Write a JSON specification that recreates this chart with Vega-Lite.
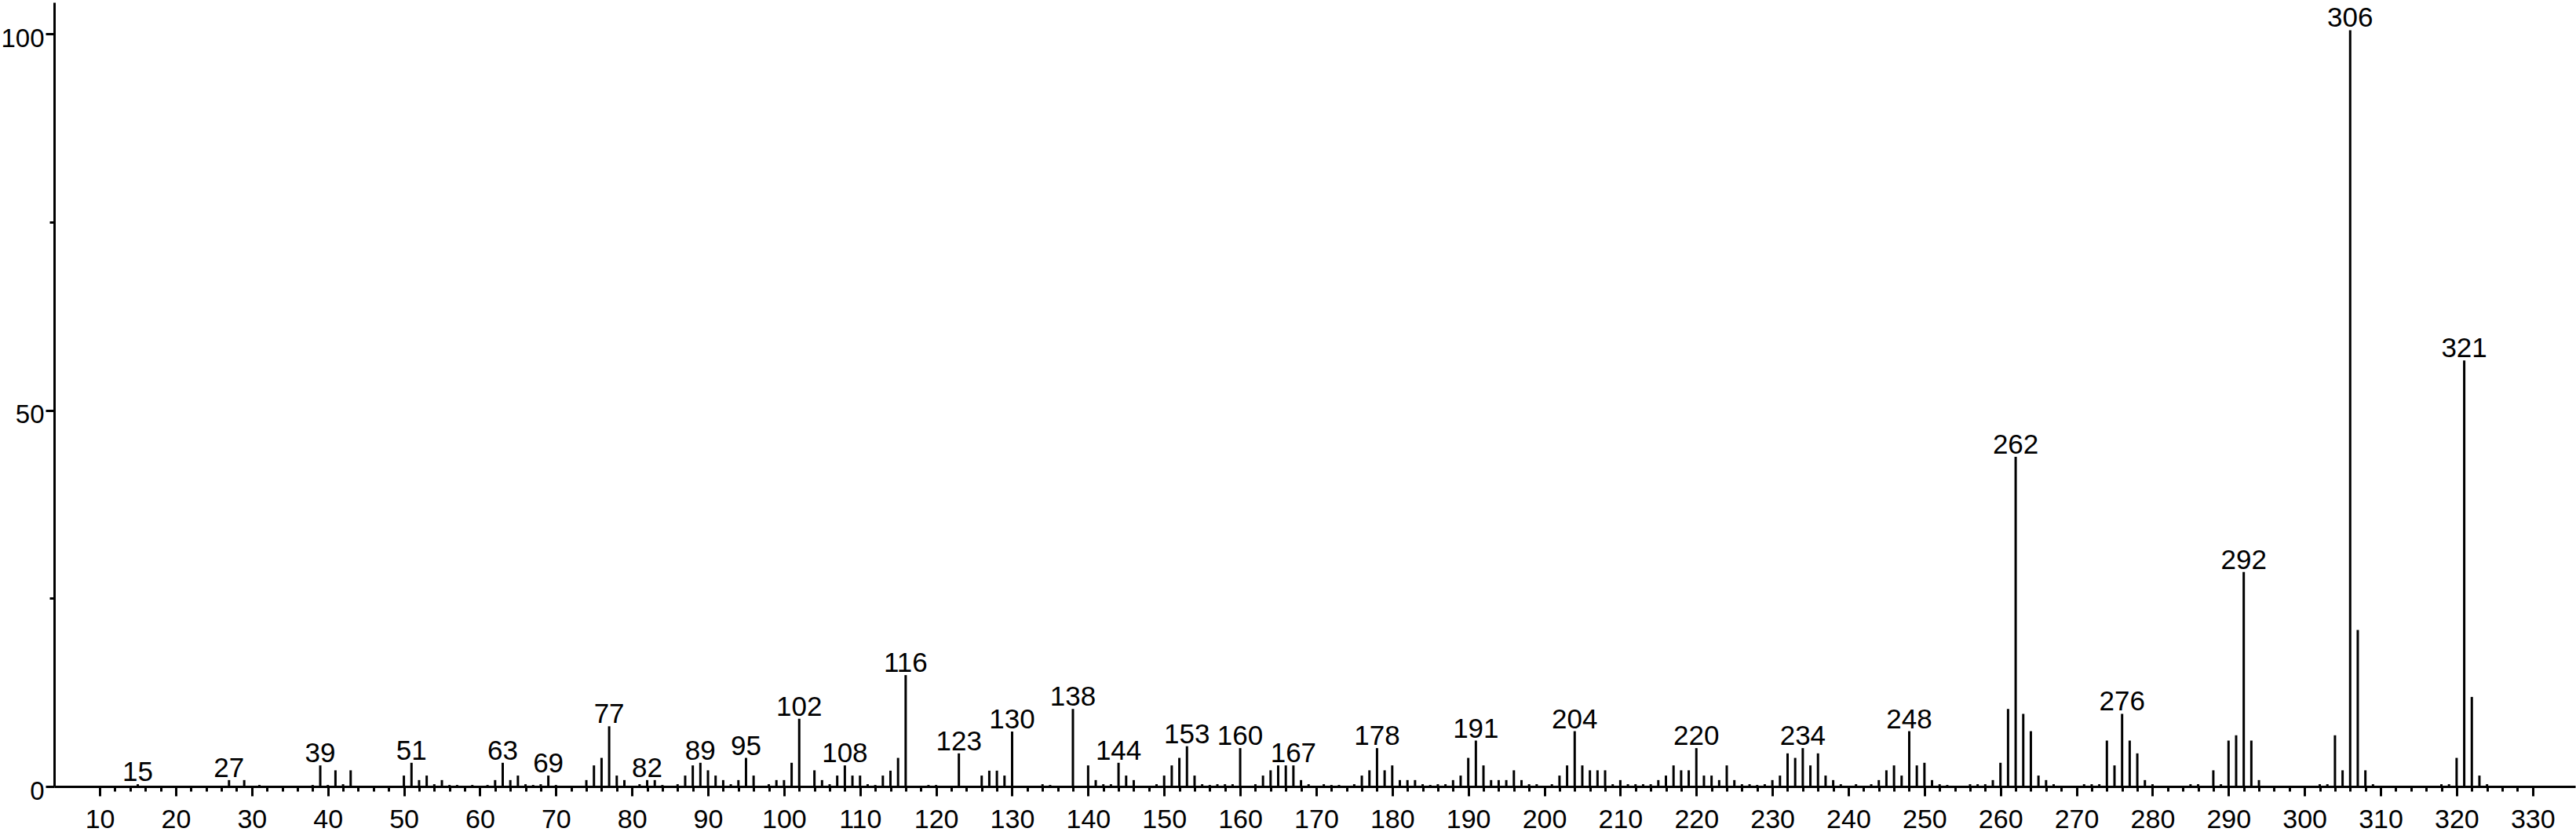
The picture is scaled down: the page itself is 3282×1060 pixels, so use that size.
{
  "$schema": "https://vega.github.io/schema/vega-lite/v6.json",
  "width": 3212,
  "height": 999,
  "autosize": {"type": "none"},
  "padding": {"left": 69, "top": 3, "right": 1, "bottom": 58},
  "background": "white",
  "config": {"view": {"stroke": null}},
  "data": {"values": [
    {"mz":15,"i":0.3,"lab":1},{"mz":27,"i":0.85,"lab":1},{"mz":29,"i":0.85},{"mz":31,"i":0.2},{"mz":38,"i":0.2},
    {"mz":39,"i":2.8,"lab":1},{"mz":40,"i":0.2},{"mz":41,"i":2.15},{"mz":42,"i":0.3},{"mz":43,"i":2.15},
    {"mz":50,"i":1.45},{"mz":51,"i":3.15,"lab":1},{"mz":52,"i":0.85},{"mz":53,"i":1.45},{"mz":54,"i":0.3},{"mz":55,"i":0.85},{"mz":56,"i":0.2},{"mz":57,"i":0.2},{"mz":59,"i":0.2},
    {"mz":61,"i":0.2},{"mz":62,"i":0.85},{"mz":63,"i":3.15,"lab":1},{"mz":64,"i":0.85},{"mz":65,"i":1.45},{"mz":66,"i":0.3},{"mz":67,"i":0.2},{"mz":68,"i":0.3},{"mz":69,"i":1.45,"lab":1},{"mz":70,"i":0.2},
    {"mz":74,"i":0.85},{"mz":75,"i":2.8},{"mz":76,"i":3.8},{"mz":77,"i":8.0,"lab":1},{"mz":78,"i":1.45},{"mz":79,"i":0.85},{"mz":81,"i":0.3},{"mz":82,"i":0.85,"lab":1},{"mz":83,"i":0.85},{"mz":84,"i":0.2},
    {"mz":86,"i":0.3},{"mz":87,"i":1.45},{"mz":88,"i":2.8},{"mz":89,"i":3.15,"lab":1},{"mz":90,"i":2.15},{"mz":91,"i":1.45},{"mz":92,"i":0.85},{"mz":93,"i":0.3},{"mz":94,"i":0.85},{"mz":95,"i":3.8,"lab":1},{"mz":96,"i":1.45},
    {"mz":98,"i":0.3},{"mz":99,"i":0.85},{"mz":100,"i":0.85},{"mz":101,"i":3.15},{"mz":102,"i":9.0,"lab":1},{"mz":104,"i":2.15},{"mz":105,"i":0.85},{"mz":106,"i":0.3},{"mz":107,"i":1.45},{"mz":108,"i":2.8,"lab":1},{"mz":109,"i":1.45},{"mz":110,"i":1.45},
    {"mz":111,"i":0.3},{"mz":112,"i":0.2},{"mz":113,"i":1.45},{"mz":114,"i":2.1},{"mz":115,"i":3.8},{"mz":116,"i":14.8,"lab":1},
    {"mz":119,"i":0.2},{"mz":120,"i":0.2},{"mz":123,"i":4.4,"lab":1},{"mz":126,"i":1.45},{"mz":127,"i":2.1},{"mz":128,"i":2.1},{"mz":129,"i":1.45},{"mz":130,"i":7.3,"lab":1},
    {"mz":134,"i":0.3},{"mz":135,"i":0.2},{"mz":138,"i":10.3,"lab":1},{"mz":140,"i":2.8},{"mz":141,"i":0.85},{"mz":142,"i":0.3},{"mz":143,"i":0.3},{"mz":144,"i":3.15,"lab":1},{"mz":145,"i":1.45},{"mz":146,"i":0.85},
    {"mz":149,"i":0.3},{"mz":150,"i":1.45},{"mz":151,"i":2.8},{"mz":152,"i":3.8},{"mz":153,"i":5.35,"lab":1},{"mz":154,"i":1.45},{"mz":155,"i":0.3},{"mz":156,"i":0.2},{"mz":157,"i":0.3},{"mz":158,"i":0.3},{"mz":159,"i":0.3},
    {"mz":160,"i":5.1,"lab":1},{"mz":162,"i":0.3},{"mz":163,"i":1.45},{"mz":164,"i":2.15},{"mz":165,"i":2.8},{"mz":166,"i":2.8},{"mz":167,"i":2.8,"lab":1},{"mz":168,"i":0.85},{"mz":169,"i":0.3},{"mz":171,"i":0.3},{"mz":172,"i":0.2},
    {"mz":173,"i":0.2},{"mz":175,"i":0.3},{"mz":176,"i":1.45},{"mz":177,"i":2.15},{"mz":178,"i":5.1,"lab":1},{"mz":179,"i":2.15},{"mz":180,"i":2.8},{"mz":181,"i":0.85},{"mz":182,"i":0.85},{"mz":183,"i":0.85},
    {"mz":184,"i":0.3},{"mz":185,"i":0.2},{"mz":186,"i":0.3},{"mz":187,"i":0.3},{"mz":188,"i":0.85},{"mz":189,"i":1.45},{"mz":190,"i":3.8},{"mz":191,"i":6.1,"lab":1},{"mz":192,"i":2.8},{"mz":193,"i":0.85},
    {"mz":194,"i":0.85},{"mz":195,"i":0.85},{"mz":196,"i":2.15},{"mz":197,"i":0.85},{"mz":198,"i":0.3},{"mz":199,"i":0.3},{"mz":201,"i":0.3},{"mz":202,"i":1.45},{"mz":203,"i":2.8},{"mz":204,"i":7.35,"lab":1},
    {"mz":205,"i":2.8},{"mz":206,"i":2.15},{"mz":207,"i":2.15},{"mz":208,"i":2.15},{"mz":209,"i":0.3},{"mz":210,"i":0.85},{"mz":211,"i":0.3},{"mz":212,"i":0.3},{"mz":213,"i":0.3},{"mz":214,"i":0.3},
    {"mz":215,"i":0.85},{"mz":216,"i":1.45},{"mz":217,"i":2.8},{"mz":218,"i":2.15},{"mz":219,"i":2.15},{"mz":220,"i":5.1,"lab":1},{"mz":221,"i":1.45},{"mz":222,"i":1.45},{"mz":223,"i":0.85},{"mz":224,"i":2.8},
    {"mz":225,"i":0.85},{"mz":226,"i":0.3},{"mz":227,"i":0.3},{"mz":228,"i":0.2},{"mz":229,"i":0.3},{"mz":230,"i":0.85},{"mz":231,"i":1.45},{"mz":232,"i":4.4},{"mz":233,"i":3.8},{"mz":234,"i":5.1,"lab":1},
    {"mz":235,"i":2.8},{"mz":236,"i":4.4},{"mz":237,"i":1.45},{"mz":238,"i":0.85},{"mz":239,"i":0.3},{"mz":241,"i":0.3},{"mz":243,"i":0.3},{"mz":244,"i":0.85},{"mz":245,"i":2.15},{"mz":246,"i":2.8},
    {"mz":247,"i":1.45},{"mz":248,"i":7.35,"lab":1},{"mz":249,"i":2.8},{"mz":250,"i":3.15},{"mz":251,"i":0.85},{"mz":252,"i":0.3},{"mz":253,"i":0.2},{"mz":256,"i":0.3},{"mz":257,"i":0.3},{"mz":258,"i":0.3},
    {"mz":259,"i":0.85},{"mz":260,"i":3.15},{"mz":261,"i":10.3},{"mz":262,"i":43.8,"lab":1},{"mz":263,"i":9.65},{"mz":264,"i":7.35},{"mz":265,"i":1.45},{"mz":266,"i":0.85},{"mz":267,"i":0.3},
    {"mz":271,"i":0.3},{"mz":272,"i":0.3},{"mz":273,"i":0.3},{"mz":274,"i":6.1},{"mz":275,"i":2.8},{"mz":276,"i":9.65,"lab":1},{"mz":277,"i":6.1},{"mz":278,"i":4.4},{"mz":279,"i":0.85},{"mz":280,"i":0.3},
    {"mz":285,"i":0.3},{"mz":286,"i":0.3},{"mz":288,"i":2.15},{"mz":289,"i":0.3},{"mz":290,"i":6.1},{"mz":291,"i":6.8},{"mz":292,"i":28.5,"lab":1},{"mz":293,"i":6.1},{"mz":294,"i":0.85},
    {"mz":302,"i":0.3},{"mz":303,"i":0.3},{"mz":304,"i":6.8},{"mz":305,"i":2.15},{"mz":306,"i":100.5,"lab":1},{"mz":307,"i":20.8},{"mz":308,"i":2.15},{"mz":309,"i":0.3},
    {"mz":318,"i":0.3},{"mz":319,"i":0.3},{"mz":320,"i":3.8},{"mz":321,"i":56.6,"lab":1},{"mz":322,"i":11.9},{"mz":323,"i":1.45},{"mz":324,"i":0.3}
  ]},
  "resolve": {"axis": {"x": "independent", "y": "independent"}},
  "layer": [
    {
      "mark": {"type": "rule", "color": "black", "strokeWidth": 3},
      "encoding": {
        "x": {"field": "mz", "type": "quantitative",
          "scale": {"domain": [4, 335.6], "nice": false, "zero": false},
          "axis": {"orient": "bottom", "values": [10,20,30,40,50,60,70,80,90,100,110,120,130,140,150,160,170,180,190,200,210,220,230,240,250,260,270,280,290,300,310,320,330],
            "title": null, "grid": false, "domain": true, "domainColor": "black", "domainWidth": 3,
            "ticks": true, "tickColor": "black", "tickWidth": 3, "tickSize": 12,
            "labelFont": "Liberation Sans", "labelFontSize": 34, "labelColor": "black", "labelPadding": 13, "labelFlush": false, "labelOverlap": false}},
        "y": {"field": "i", "type": "quantitative",
          "scale": {"domain": [0, 104.2], "nice": false, "zero": true},
          "axis": {"orient": "left", "values": [0, 50, 100], "title": null, "grid": false,
            "domain": true, "domainColor": "black", "domainWidth": 3,
            "ticks": true, "tickColor": "black", "tickWidth": 3, "tickSize": 11,
            "labelFont": "Liberation Sans", "labelFontSize": 33, "labelColor": "black", "labelPadding": 2, "labelOffset": 6, "labelFlush": false, "labelOverlap": false}},
        "y2": {"datum": 0}
      }
    },
    {
      "transform": [{"filter": "datum.lab == 1"}],
      "mark": {"type": "text", "font": "Liberation Sans", "fontSize": 35, "color": "black", "align": "center", "baseline": "alphabetic", "dy": -4},
      "encoding": {
        "x": {"field": "mz", "type": "quantitative",
          "scale": {"domain": [4, 335.6], "nice": false, "zero": false},
          "axis": {"orient": "bottom", "values": [12,14,16,18,22,24,26,28,32,34,36,38,42,44,46,48,52,54,56,58,62,64,66,68,72,74,76,78,82,84,86,88,92,94,96,98,102,104,106,108,112,114,116,118,122,124,126,128,132,134,136,138,142,144,146,148,152,154,156,158,162,164,166,168,172,174,176,178,182,184,186,188,192,194,196,198,202,204,206,208,212,214,216,218,222,224,226,228,232,234,236,238,242,244,246,248,252,254,256,258,262,264,266,268,272,274,276,278,282,284,286,288,292,294,296,298,302,304,306,308,312,314,316,318,322,324,326,328],
            "title": null, "grid": false, "domain": false, "labels": false,
            "ticks": true, "tickColor": "black", "tickWidth": 3, "tickSize": 6}},
        "y": {"field": "i", "type": "quantitative",
          "scale": {"domain": [0, 104.2], "nice": false, "zero": true},
          "axis": {"orient": "left", "values": [25, 75], "title": null, "grid": false, "domain": false, "labels": false,
            "ticks": true, "tickColor": "black", "tickWidth": 3, "tickSize": 6}},
        "text": {"field": "mz", "type": "quantitative", "format": "d"}
      }
    }
  ]
}
